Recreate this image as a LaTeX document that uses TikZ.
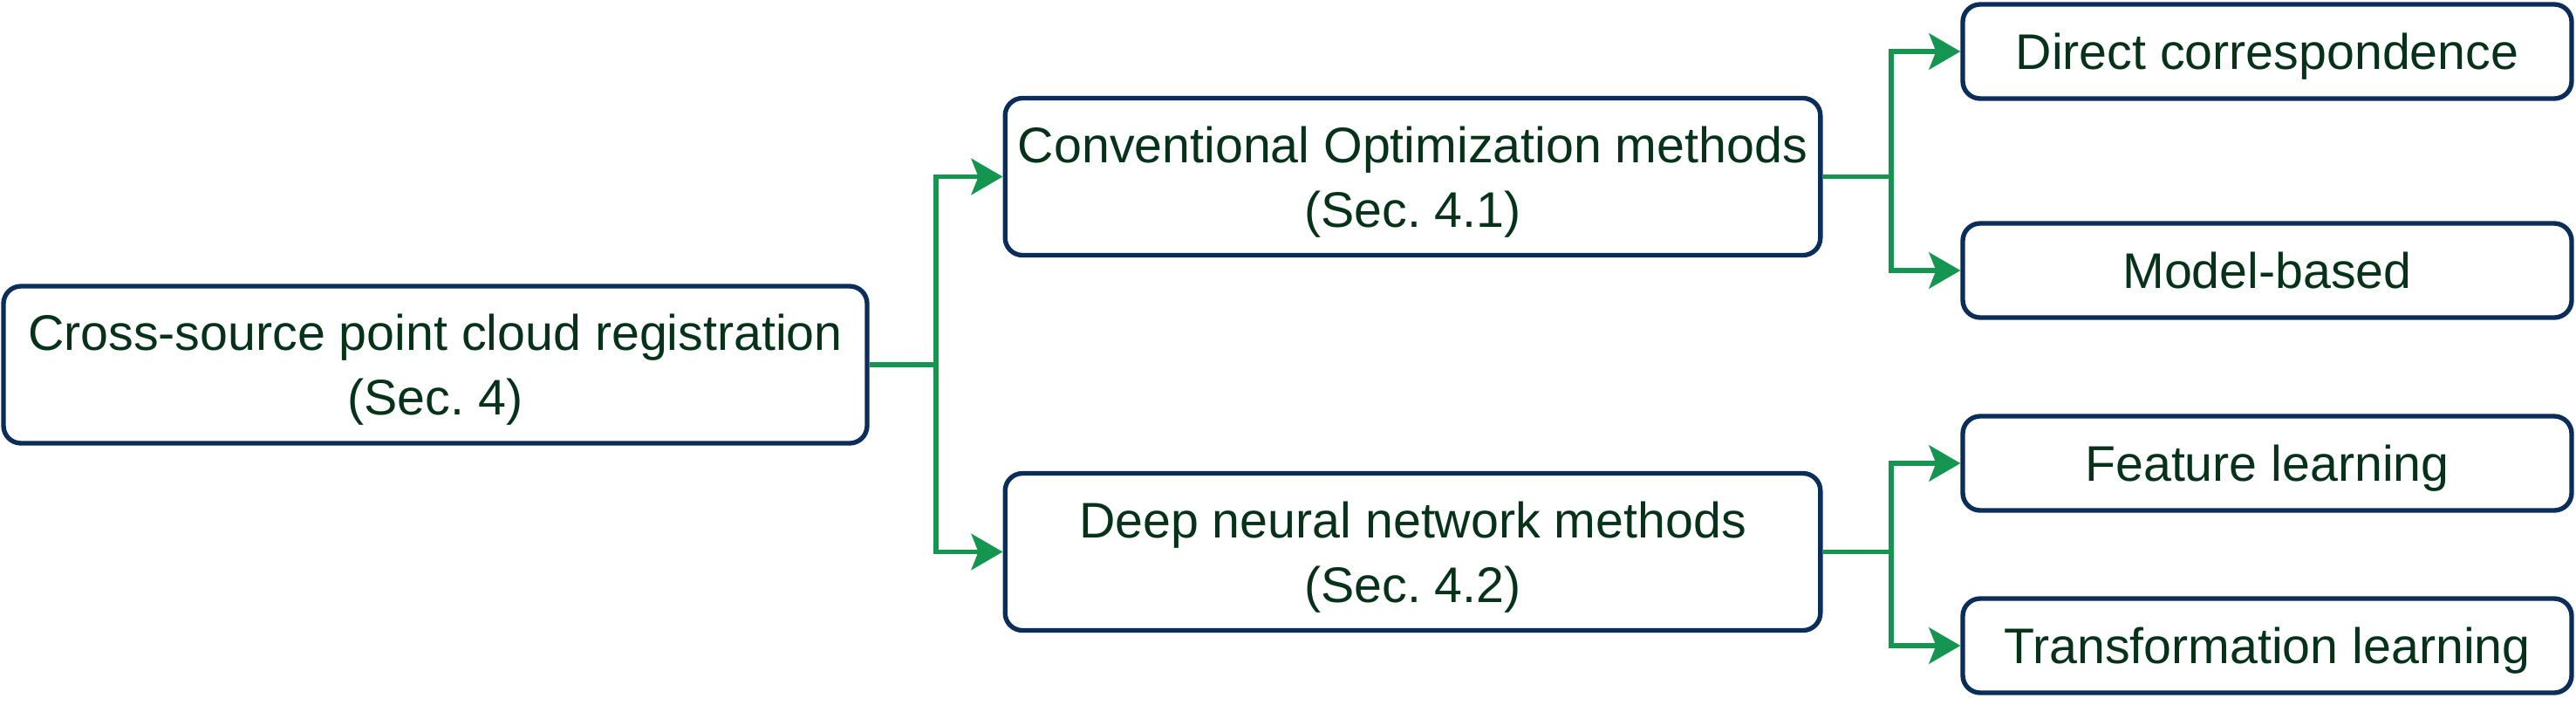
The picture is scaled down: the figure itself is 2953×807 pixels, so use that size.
\documentclass[tikz,border=0pt]{standalone}
\usepackage{fontspec}
\setmainfont{Liberation Sans}
\usetikzlibrary{arrows.meta}

\definecolor{boxnavy}{RGB}{10,45,90}
\definecolor{linkgreen}{RGB}{20,150,80}
\definecolor{textgreen}{RGB}{6,50,26}

\tikzset{every picture/.style={line width=4pt}}
\tikzset{
  box/.style={draw=boxnavy, line width=4pt, rounded corners=15pt, rectangle,
    inner sep=0pt, align=center, text=textgreen,
    font=\fontsize{43}{55.5}\selectfont\frenchspacing},
  midbox/.style={box, minimum width=701pt, minimum height=135pt,
    text depth=0pt},
  leafbox/.style={box, minimum width=523.5pt, minimum height=81pt,
    text height=30.8pt, text depth=0pt},
  link/.style={draw=linkgreen, line width=4pt,
    -{Stealth[length=27pt, width=31pt, inset=6pt]}},
  joint/.style={draw=linkgreen, line width=4pt}
}

\begin{document}
\begin{tikzpicture}[x=0.75pt,y=0.75pt,yscale=-1,xscale=1]
\useasboundingbox (0,0) rectangle (2953,807);

% Text Node
\node (root) at (499,418) [midbox, minimum width=742.5pt]
  {Cross-source point cloud registration\\(Sec. 4)};
% Text Node
\node (conv) at (1619.5,202.5) [midbox]
  {Conventional Optimization methods\\(Sec. 4.1)};
% Text Node
\node (deep) at (1619.5,632.5) [midbox]
  {Deep neural network methods\\(Sec. 4.2)};
% Text Node
\node (direct) at (2599,59) [leafbox] {Direct correspondence};
% Text Node
\node (model) at (2599,310) [leafbox] {Model-based};
% Text Node
\node (feature) at (2599,531) [leafbox] {Feature learning};
% Text Node
\node (trans) at (2599,740) [leafbox] {Transformation learning};

%Split points
\coordinate (rootsplit) at (1073,418);
\coordinate (convsplit) at (2168,202.5);
\coordinate (deepsplit) at (2168,632.5);

%Straight Lines
\draw [joint] (root.east) -- (rootsplit);
\draw [link] (rootsplit) |- (conv.west);
\draw [link] (rootsplit) |- (deep.west);

%Straight Lines
\draw [joint] (conv.east) -- (convsplit);
\draw [link] (convsplit) |- (direct.west);
\draw [link] (convsplit) |- (model.west);

%Straight Lines
\draw [joint] (deep.east) -- (deepsplit);
\draw [link] (deepsplit) |- (feature.west);
\draw [link] (deepsplit) |- (trans.west);

\end{tikzpicture}
\end{document}
